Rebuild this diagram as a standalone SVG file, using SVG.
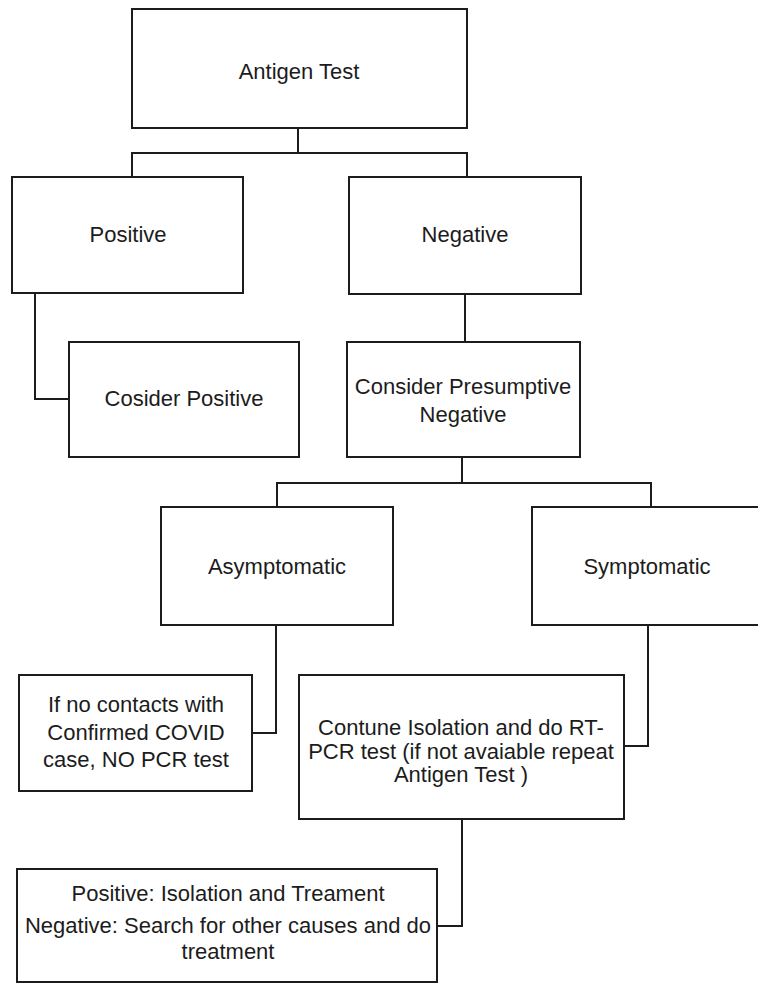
<svg xmlns="http://www.w3.org/2000/svg" width="758" height="985" viewBox="0 0 758 985">
<style>
.box{fill:#fff;stroke:#1c1c1c;stroke-width:2}
.con{fill:none;stroke:#1c1c1c;stroke-width:2}
text{font-family:"Liberation Sans",Arial,sans-serif;font-size:22px;fill:#1c1c1c;text-anchor:middle}
</style>
<rect width="758" height="985" fill="#fff"/>
<g id="connectors">
<path class="con" d="M298,128 V153 M132,177 V153 H467 V177"/>
<path class="con" d="M35,293 V399 H69"/>
<path class="con" d="M465,294 V342"/>
<path class="con" d="M462,457 V483 M277,507 V483 H651 V507"/>
<path class="con" d="M276,625 V733 H252"/>
<path class="con" d="M648,625 V746 H624"/>
<path class="con" d="M462,819 V926 H437"/>
</g>
<g id="antigen-test">
<rect class="box" x="132" y="9" width="335" height="119"/>
<text x="299" y="79">Antigen Test</text>
</g>
<g id="positive">
<rect class="box" x="12" y="177" width="231" height="116"/>
<text x="128" y="242">Positive</text>
</g>
<g id="negative">
<rect class="box" x="349" y="177" width="232" height="117"/>
<text x="465" y="242">Negative</text>
</g>
<g id="cosider-positive">
<rect class="box" x="69" y="342" width="230" height="115"/>
<text x="184" y="406">Cosider Positive</text>
</g>
<g id="consider-presumptive-negative">
<rect class="box" x="347" y="342" width="233" height="115"/>
<text x="463" y="394">Consider Presumptive</text>
<text x="463" y="422">Negative</text>
</g>
<g id="asymptomatic">
<rect class="box" x="161" y="507" width="232" height="118"/>
<text x="277" y="574">Asymptomatic</text>
</g>
<g id="symptomatic">
<rect class="box" x="532" y="507" width="240" height="118"/>
<text x="647" y="574">Symptomatic</text>
</g>
<g id="no-contacts">
<rect class="box" x="19" y="675" width="233" height="116"/>
<text x="136" y="712">If no contacts with</text>
<text x="136" y="740">Confirmed COVID</text>
<text x="136" y="767">case, NO PCR test</text>
</g>
<g id="continue-isolation">
<rect class="box" x="299" y="675" width="325" height="144"/>
<text x="461" y="735">Contune Isolation and do RT-</text>
<text x="461" y="759">PCR test (if not avaiable repeat</text>
<text x="461" y="782">Antigen Test )</text>
</g>
<g id="result-actions">
<rect class="box" x="17" y="869" width="420" height="113"/>
<text x="228" y="901">Positive: Isolation and Treament</text>
<text x="228" y="933">Negative: Search for other causes and do</text>
<text x="228" y="959">treatment</text>
</g>
</svg>
